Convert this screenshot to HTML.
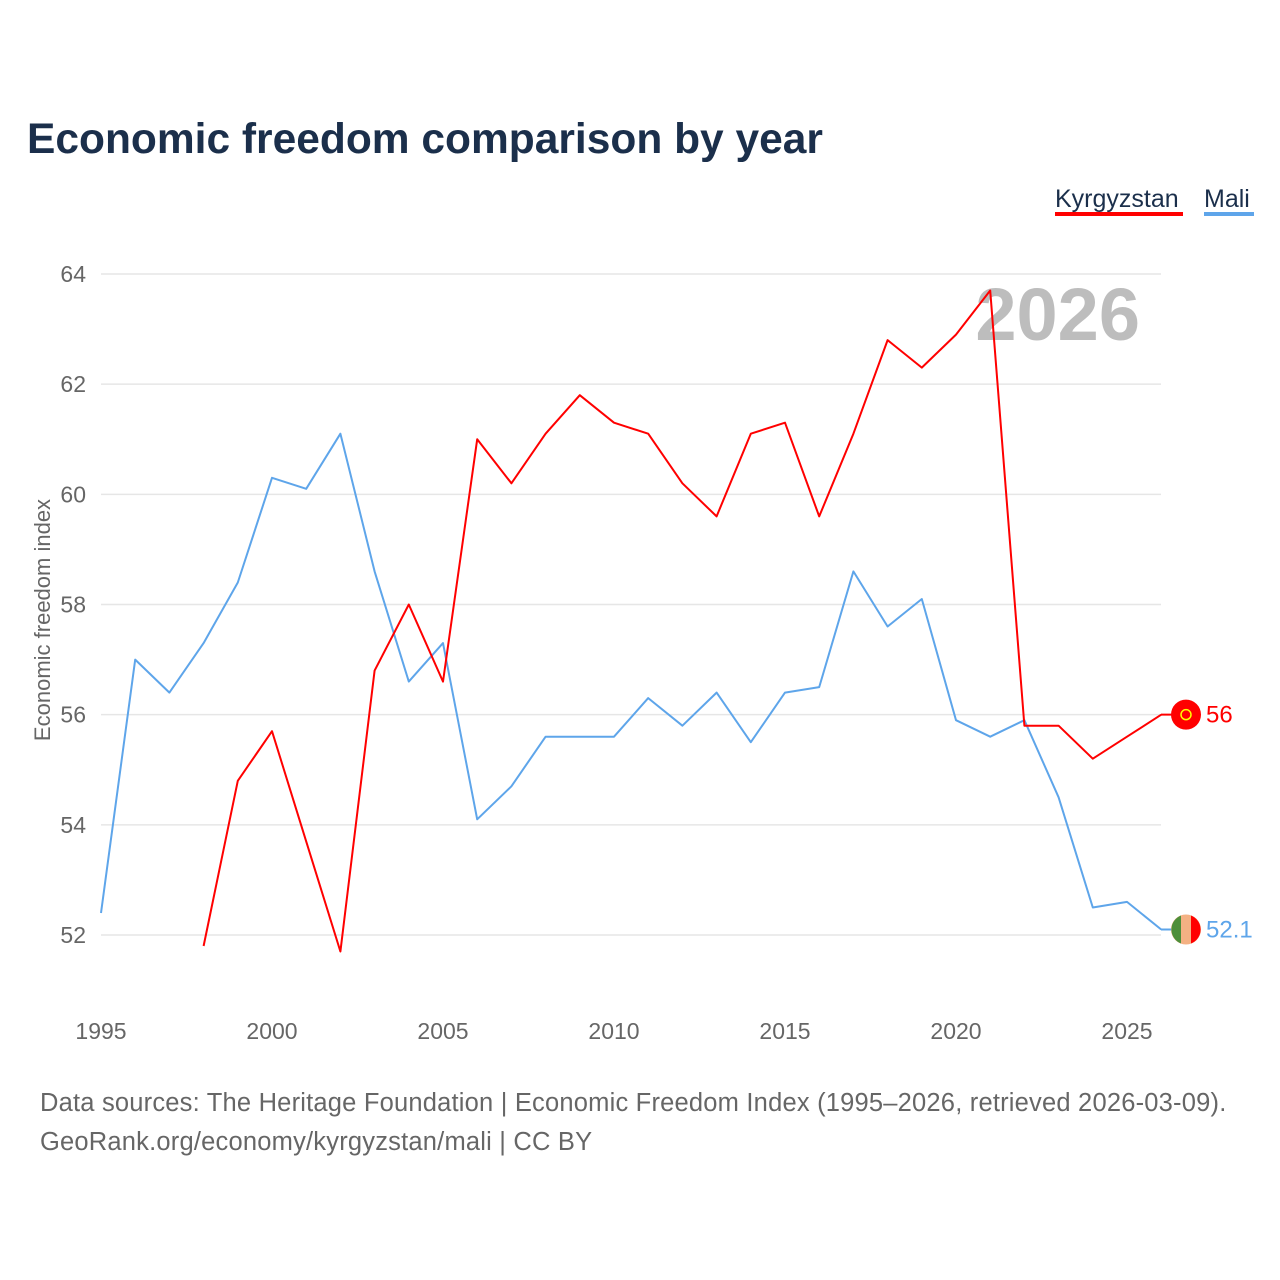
<!DOCTYPE html>
<html><head><meta charset="utf-8"><style>
body{margin:0;background:#fff;font-family:"Liberation Sans",sans-serif}
#wrap{position:relative;width:1280px;height:1280px;overflow:hidden}
</style></head><body>
<div id="wrap">
<svg id="chart" width="1280" height="1280">
<text x="27" y="153" font-size="42.5" font-weight="bold" fill="#1b2f4b">Economic freedom comparison by year</text>
<g><text x="1055" y="207" font-size="25" fill="#1b2f4b">Kyrgyzstan</text><rect x="1055" y="212" width="128" height="4" fill="#ff0000"/></g>
<g><text x="1204" y="207" font-size="25" fill="#1b2f4b">Mali</text><rect x="1204" y="212" width="50" height="4" fill="#5ea5ea"/></g>
<text x="1140" y="340" font-size="74" font-weight="bold" fill="#bdbdbd" text-anchor="end">2026</text>
<text transform="translate(50,620) rotate(-90)" font-size="22" fill="#666" text-anchor="middle">Economic freedom index</text>
<g id="grid"></g><g id="series"></g><g id="ends"></g>
<text x="40" y="1111" font-size="25.5" letter-spacing="0.2" fill="#666">Data sources: The Heritage Foundation | Economic Freedom Index (1995–2026, retrieved 2026-03-09).</text>
<text x="40" y="1150" font-size="25.5" letter-spacing="0.2" fill="#666">GeoRank.org/economy/kyrgyzstan/mali | CC BY</text>
</svg></div>
<script>
const years=[1995,1996,1997,1998,1999,2000,2001,2002,2003,2004,2005,2006,2007,2008,2009,2010,2011,2012,2013,2014,2015,2016,2017,2018,2019,2020,2021,2022,2023,2024,2025,2026];
const kyrgyzstan=[null,null,null,51.8,54.8,55.7,53.7,51.7,56.8,58.0,56.6,61.0,60.2,61.1,61.8,61.3,61.1,60.2,59.6,61.1,61.3,59.6,61.1,62.8,62.3,62.9,63.7,55.8,55.8,55.2,55.6,56.0];
const mali=[52.4,57.0,56.4,57.3,58.4,60.3,60.1,61.1,58.6,56.6,57.3,54.1,54.7,55.6,55.6,55.6,56.3,55.8,56.4,55.5,56.4,56.5,58.6,57.6,58.1,55.9,55.6,55.9,54.5,52.5,52.6,52.1];
const yTicks=[52,54,56,58,60,62,64];
const xTicks=[1995,2000,2005,2010,2015,2020,2025];
const NS="http://www.w3.org/2000/svg";
const xs=y=>101+(y-1995)*(1127-101)/30;
const ys=v=>935-(v-52)*(935-274)/12;
function mk(t,a,p){const e=document.createElementNS(NS,t);for(const k in a)e.setAttribute(k,a[k]);p.appendChild(e);return e;}
const grid=document.getElementById('grid');
yTicks.forEach(v=>{
 const l=mk('line',{x1:101,x2:1161,y1:ys(v),y2:ys(v),stroke:'#e6e6e6','stroke-width':1.5},grid);
 
 
 const t=mk('text',{x:86,y:ys(v)+8,'font-size':23,fill:'#666','text-anchor':'end'},grid);t.textContent=v;
 
 
});
xTicks.forEach(y=>{
 const t=mk('text',{x:xs(y),y:1039,'font-size':23,fill:'#666','text-anchor':'middle'},grid);t.textContent=y;
 
 
});
const sg=document.getElementById('series');
function line(vals,color,name){
 let d='';vals.forEach((v,i)=>{if(v==null)return;d+=(d?'L':'M')+xs(years[i]).toFixed(1)+','+ys(v).toFixed(1);});
 const p=mk('path',{d:d,fill:'none',stroke:color,'stroke-width':2,'stroke-linejoin':'round'},sg);
 
 
}
line(mali,'#5ea5ea','mali-line');
line(kyrgyzstan,'#ff0000','kyrgyzstan-line');
const eg=document.getElementById('ends');
function endMark(vals,color,name,flag){
 const v=vals[vals.length-1],y=ys(v);
 mk('line',{x1:1161,x2:1180,y1:y,y2:y,stroke:color,'stroke-width':2},eg);
 const g=mk('g',{},eg);
 
 
 if(flag==='kg'){mk('circle',{cx:1186,cy:y,r:15,fill:'#f00'},g);mk('circle',{cx:1186,cy:y,r:5,fill:'none',stroke:'#ff0','stroke-width':1.5},g);}
 else{mk('circle',{cx:1186,cy:y,r:15,fill:'#f4b183'},g);
  mk('path',{d:`M1181,${y-14}A15,15 0 0 0 1181,${y+14}L1181,${y-14}Z`,fill:'#4d8f3a'},g);
  mk('path',{d:`M1191,${y-14}A15,15 0 0 1 1191,${y+14}Z`,fill:'#f00'},g);}
 const t=mk('text',{x:1206,y:y+8,'font-size':24,fill:color},eg);t.textContent=v;
 
 
}
endMark(kyrgyzstan,'#ff0000','kyrgyzstan','kg');
endMark(mali,'#5ea5ea','mali','ml');
</script>
</body></html>
